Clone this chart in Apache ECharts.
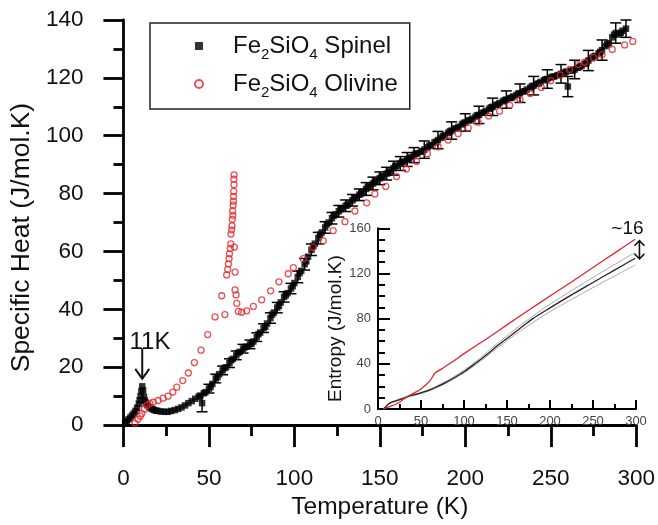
<!DOCTYPE html>
<html><head><meta charset="utf-8">
<script src="https://cdn.jsdelivr.net/npm/echarts@6/dist/echarts.min.js"></script>
<style>html,body{margin:0;padding:0;background:#fff}#c{width:658px;height:525px}</style>
</head><body><div id="c"></div>
<script>
// ---- data ----
const xTicks = [0, 50, 100, 150, 200, 250, 300];
const yTicks = [0, 20, 40, 60, 80, 100, 120, 140];
const insetXTicks = [0, 50, 100, 150, 200, 250, 300];
const insetYTicks = [0, 40, 80, 120, 160];
const seriesNames = ['Fe2SiO4 Spinel', 'Fe2SiO4 Olivine'];

// Spinel specific heat [T (K), Cp (J/mol.K)]
const spinel = [
 [1,0.9],[2,1.4],[3,2.0],[4,2.6],[5,3.3],[6,4.0],[7,4.9],[8,6.0],[9,7.4],[9.5,8.6],[10,10.0],[10.5,11.8],[11,13.4],[11.5,12.0],[12,9.8],[12.5,8.5],[13,7.8],[14,7.0],[15,6.3],[16,5.8],[17,5.5],[18,5.2],[19,5.0],
 [20,4.9],[22,4.7],[24,4.6],[26,4.6],[28,4.9],[30,5.2],[32,5.6],[34,6.1],[36,6.8],[38,7.6],[40,8.3],[42,9.1],[44,9.8],[45,10.2],[46,7.6],[47,11.0],[48,11.4],
 [50,12.6],[52,14.2],[54,16.1],[56,17.6],[58,18.9],[60,20.0],[62,21.4],[64,22.9],[66,24.1],[68,25.3],[70,26.4],[72,27.1],[74,27.9],[76,28.9],[78,30.4],
 [80,32.0],[82,33.5],[84,35.1],[86,37.0],[88,38.9],[90,40.6],[92,42.4],[94,44.3],[96,45.6],[98,47.2],[100,49.1],[102,51.2],[104,53.3],[106,55.6],[108,58.2],
 [110,60.6],[112,62.7],[114,64.6],[116,66.6],[118,68.3],[120,70.0],[122,71.5],[124,72.8],[126,73.9],[128,74.9],[130,75.8],[132,76.7],[134,77.7],[136,78.6],[138,79.6],
 [140,80.6],[142,81.6],[144,82.6],[146,83.5],[148,84.4],[150,85.3],[152,86.1],[154,86.9],[156,87.8],[158,88.8],[160,89.7],[162,90.4],[164,91.1],[166,91.8],[168,92.6],
 [170,93.3],[172,93.9],[174,94.5],[176,95.2],[178,96.0],[180,96.8],[182,97.7],[184,98.5],[186,99.3],[188,100.2],[190,101.0],[192,101.8],[194,102.5],[196,103.1],[198,103.9],
 [200,104.6],[202,105.3],[204,105.9],[206,106.6],[208,107.2],[210,107.9],[212,108.6],[214,109.3],[216,110.0],[218,110.6],[220,111.3],[222,111.9],[224,112.5],[226,113.0],[228,113.6],
 [230,114.1],[232,114.7],[234,115.3],[236,116.0],[238,116.6],[240,117.3],[242,117.9],[244,118.6],[246,119.2],[248,119.6],[250,120.1],[252,120.5],[254,120.9],[256,121.4],[258,121.8],
 [260,117.0],[262,122.5],[264,122.9],[266,123.5],[268,124.2],[270,124.8],[272,126.0],[274,126.8],[276,127.6],[278,128.5],[280,129.6],[282,131.0],[284,132.0],[286,134.0],[288,135.5],
 [290,135.0],[292,136.3],[294,137.0],
 // in-between readings where the band is widest
 [51,13.2],[55,16.6],[59,19.7],[63,22.4],[67,24.9],[71,26.9],[75,28.2],[79,31.4],[83,34.0],[87,38.2],[91,41.2],[95,44.9],[99,48.0],
 [103,52.5],[107,56.6],[111,61.9],[115,65.8],[119,69.4],[123,72.4],[127,74.6],[131,76.0],[135,78.4],[139,80.0],[143,82.2],[147,84.1],
 [151,85.9],[155,87.2],[159,89.4],[163,90.9],[167,92.0],[171,93.8],[175,94.6],[179,96.6],[183,97.9],[187,99.9],[191,101.5],[195,102.6],
 [199,104.4],[203,105.4],[207,107.1],[211,108.0],[215,109.8],[219,110.8],[223,112.3],[227,113.1],[231,114.6],[235,115.4],[239,117.1],
 [243,118.1],[247,119.5],[251,120.4],[255,121.0],[259,122.2],[263,122.6],[267,123.9],[271,125.3],[275,127.3],[279,129.0],[283,131.6],[287,134.9],[291,135.6]
];
// Error bars on spinel points: [T (K), half-length (J/mol.K)]
const spinelErrors = [
 [46,3.0],[50,1.5],[54,1.5],[58,1.5],[62,1.5],[66,1.5],[70,1.5],[74,1.5],[78,1.5],[82,1.5],[86,1.8],[90,1.8],[94,1.8],[98,1.8],
 [102,2.0],[106,2.0],[110,2.0],[114,2.0],[118,2.0],[122,2.0],[126,2.0],[130,2.0],[134,2.0],[138,2.0],[142,2.2],[146,2.2],[150,2.2],
 [154,2.2],[158,2.4],[162,2.4],[166,2.4],[170,2.6],[176,3.0],[184,3.0],[192,3.0],[200,3.0],[208,3.0],[216,3.0],[224,3.0],[232,3.2],
 [240,3.2],[248,3.2],[256,3.2],[260,3.5],[264,3.2],[272,3.5],[280,3.5],[288,3.5],[294,3.0]
];
// Olivine specific heat [T (K), Cp (J/mol.K)]
const olivine = [
 [6.8,0.7],[8.5,2.0],[9.8,3.1],[10.8,4.0],[12.3,5.5],[13.7,6.8],[15.5,7.5],[17.4,7.9],[20.3,8.5],[23.2,9.3],[26.1,10.0],[28.9,11.4],[31.2,13.1],[34.7,15.4],
 [38.0,18.0],[41.5,21.6],[45.4,25.9],[49.3,31.3],[53.6,37.4],[57.5,44.7],[59.4,38.2],[60.4,51.9],[61.0,53.8],[61.4,55.7],[61.8,57.5],[62.0,59.2],[62.5,61.0],
 [62.8,62.6],[62.9,66.0],[63.3,67.5],[63.5,68.9],[63.7,71.1],[63.9,74.0],[64.0,72.5],[64.2,76.0],[64.3,77.4],[64.4,79.0],[64.5,80.8],[64.6,85.0],[64.7,83.1],
 [64.7,86.5],[64.9,61.5],[65.3,52.9],[65.3,46.7],[65.9,45.0],[66.3,42.1],[67.2,39.3],[69.2,39.0],[72.1,39.5],[76.0,41.0],[80.9,43.3],[86.1,46.4],[91.0,49.5],
 [96.4,52.3],[99.4,54.4],[105.2,57.5],[111.0,61.5],[116.9,63.7],[122.7,67.2],[129.6,70.3],[135.4,74.0],[142.3,76.8],[147.1,79.9],[153.5,82.5],[159.8,85.9],
 [165.5,88.5],[171.5,91.1],[177.8,93.8],[184.1,96.2],[190.0,98.5],[195.8,100.7],[201.7,102.7],[207.5,104.7],[213.7,106.8],[220.0,108.5],[226.0,110.5],
 [232.0,112.5],[238.0,114.6],[244.5,116.7],[250.0,119.0],[255.5,121.0],[261.0,122.9],[266.0,124.6],[269.8,125.4],[275.0,127.0],[280.0,128.0],[286.0,129.8],
 [293.2,131.4],[298.0,132.6]
];
// Inset: entropy [T (K), S (J/mol.K)]
const entropyOlivine = [
 [6,0],[15,2.5],[25,6],[33,10.5],[40,13.5],[48.5,16.8],[55,21],[60,24.5],[63,28],[66,31.6],[75,36],[87,42],[100,49],[126,62],[150,74.5],
 [175,87.5],[200,100],[225,112.5],[250,125.3],[275,138],[299,150.3]
];
const entropySpinel = [
 [6,0],[9,2],[12,4.5],[16,6],[21,7.2],[27,8.8],[33,10.5],[40,12.2],[48,13.8],[58,16.2],[68,19.5],[78,23.2],[87,27],[100,33],[113,40.2],
 [126,47.8],[138,55.5],[150,62.5],[165,71.3],[180,80],[200,89.5],[225,101],[250,112],[275,123],[299,133.5]
];
const entropySpinelHigh = [
 [6,0],[16,6.2],[33,10.8],[58,16.8],[87,28],[113,41.6],[138,57.4],[165,73.8],[200,92.8],[250,116.5],[299,138.7]
];
const entropySpinelLow = [
 [6,0],[16,5.8],[33,10.2],[58,15.6],[87,26],[113,38.8],[138,53.6],[165,68.8],[200,86.2],[250,107.5],[299,127.5]
];
const peakLabel = '11K';
const peakT = 11;
const entropyGapLabel = '~16';

// ---- chart ----
const FONT = 'Liberation Sans, Arial, Helvetica, sans-serif';
const chart = echarts.init(document.getElementById('c'), null, {renderer: 'canvas'});

function legendFmt(name) {
  const parts = name.split(' ');
  const formula = parts[0].match(/[A-Za-z]+|\d+/g)
    .map(t => /\d/.test(t) ? '{s|' + t + '}' : '{a|' + t + '}').join('');
  return '{sp| }' + formula + '{a| ' + parts.slice(1).join(' ') + '}';
}

const spinelCpAt = T => spinel.find(p => p[0] === T)[1];
const errData = spinelErrors.map(e => {
  const c = spinelCpAt(e[0]);
  return [e[0], c - e[1], c + e[1]];
});

const mainAxisCommon = {
  axisLine: {show: true, onZero: false, lineStyle: {color: '#000', width: 2.8}},
  splitLine: {show: false},
  nameTextStyle: {color: '#111', fontFamily: FONT}
};
const insetAxisCommon = {
  axisLine: {show: true, onZero: false, lineStyle: {color: '#000', width: 2}},
  splitLine: {show: false},
  nameTextStyle: {color: '#111', fontFamily: FONT}
};

const option = {
  animation: false,
  backgroundColor: '#fff',
  textStyle: {fontFamily: FONT},
  grid: [
    {left: 123.3, top: 20, width: 513.3, height: 410.5},
    {left: 378, top: 228.3, width: 258, height: 180.7}
  ],
  xAxis: [
    Object.assign({}, mainAxisCommon, {
      gridIndex: 0, type: 'value', min: xTicks[0], max: xTicks[xTicks.length - 1], interval: xTicks[1] - xTicks[0],
      name: 'Temperature (K)', nameLocation: 'middle', nameGap: 68,
      nameTextStyle: {color: '#111', fontFamily: FONT, fontSize: 24.5},
      axisTick: {show: true, inside: false, length: 22, lineStyle: {color: '#000', width: 2.8}},
      minorTick: {show: true, splitNumber: 2, length: 11, lineStyle: {color: '#000', width: 2.8}},
      axisLabel: {color: '#111', fontFamily: FONT, fontSize: 22.5, margin: 42}
    }),
    Object.assign({}, insetAxisCommon, {
      gridIndex: 1, type: 'value', min: insetXTicks[0], max: insetXTicks[insetXTicks.length - 1], interval: insetXTicks[1] - insetXTicks[0],
      axisTick: {show: true, inside: true, length: 9, lineStyle: {color: '#000', width: 2}},
      minorTick: {show: true, splitNumber: 2, length: 5, lineStyle: {color: '#000', width: 2}},
      axisLabel: {color: '#444', fontFamily: FONT, fontSize: 13, margin: 6}
    })
  ],
  yAxis: [
    Object.assign({}, mainAxisCommon, {
      gridIndex: 0, type: 'value', min: yTicks[0], max: yTicks[yTicks.length - 1], interval: yTicks[1] - yTicks[0],
      name: 'Specific Heat (J/mol.K)', nameLocation: 'middle', nameGap: 86,
      nameTextStyle: {color: '#111', fontFamily: FONT, fontSize: 26.5, padding: [0, 30, 0, 0]},
      axisTick: {show: true, inside: false, length: 20, lineStyle: {color: '#000', width: 2.8}},
      minorTick: {show: true, splitNumber: 2, length: 10, lineStyle: {color: '#000', width: 2.8}},
      axisLabel: {color: '#111', fontFamily: FONT, fontSize: 22.5, margin: 40}
    }),
    Object.assign({}, insetAxisCommon, {
      gridIndex: 1, type: 'value', min: insetYTicks[0], max: insetYTicks[insetYTicks.length - 1], interval: insetYTicks[1] - insetYTicks[0],
      name: 'Entropy (J/mol.K)', nameLocation: 'middle', nameGap: 30,
      nameTextStyle: {color: '#111', fontFamily: FONT, fontSize: 19, padding: [0, 20, 0, 0]},
      axisTick: {show: true, inside: true, length: 12, lineStyle: {color: '#000', width: 2}},
      minorTick: {show: true, splitNumber: 4, length: 7, lineStyle: {color: '#000', width: 2}},
      axisLabel: {color: '#444', fontFamily: FONT, fontSize: 13, margin: 7}
    })
  ],
  legend: {
    data: seriesNames,
    orient: 'vertical', left: 150, top: 23,
    padding: [11, 12, 9, 44],
    itemGap: 10, itemWidth: 8, itemHeight: 8,
    borderColor: '#222', borderWidth: 1.5, backgroundColor: '#fff',
    selectedMode: false,
    formatter: legendFmt,
    textStyle: {
      rich: {
        a: {fontSize: 24, lineHeight: 32, fontFamily: FONT, color: '#111'},
        s: {fontSize: 15, lineHeight: 15, verticalAlign: 'bottom', fontFamily: FONT, color: '#111'},
        sp: {width: 25, fontSize: 10}
      }
    }
  },
  series: [
    {
      name: seriesNames[0], type: 'scatter', xAxisIndex: 0, yAxisIndex: 0,
      data: spinel, symbol: 'rect', symbolSize: 6.5,
      itemStyle: {color: '#000'}, z: 3
    },
    {
      name: 'spinel error', type: 'custom', xAxisIndex: 0, yAxisIndex: 0,
      data: errData, encode: {x: 0, y: [1, 2]}, z: 3,
      renderItem: (params, api) => {
        const x = api.value(0);
        const p1 = api.coord([x, api.value(1)]);
        const p2 = api.coord([x, api.value(2)]);
        const w = 5.5;
        const st = {stroke: '#000', lineWidth: 1.5};
        return {type: 'group', children: [
          {type: 'line', shape: {x1: p1[0], y1: p1[1], x2: p2[0], y2: p2[1]}, style: st},
          {type: 'line', shape: {x1: p1[0] - w, y1: p1[1], x2: p1[0] + w, y2: p1[1]}, style: st},
          {type: 'line', shape: {x1: p2[0] - w, y1: p2[1], x2: p2[0] + w, y2: p2[1]}, style: st}
        ]};
      }
    },
    {
      name: seriesNames[1], type: 'scatter', xAxisIndex: 0, yAxisIndex: 0,
      data: olivine, symbol: 'circle', symbolSize: 6,
      itemStyle: {color: 'rgba(255,255,255,0)', borderColor: '#e3262c', borderWidth: 1.3}, z: 4
    },
    {
      name: 'S spinel high', type: 'line', xAxisIndex: 1, yAxisIndex: 1, data: entropySpinelHigh,
      showSymbol: false, smooth: 0.3, lineStyle: {color: '#aaa', width: 1}, z: 2
    },
    {
      name: 'S spinel low', type: 'line', xAxisIndex: 1, yAxisIndex: 1, data: entropySpinelLow,
      showSymbol: false, smooth: 0.3, lineStyle: {color: '#aaa', width: 1}, z: 2
    },
    {
      name: 'S spinel', type: 'line', xAxisIndex: 1, yAxisIndex: 1, data: entropySpinel,
      showSymbol: false, smooth: 0.3, lineStyle: {color: '#222', width: 1.3}, z: 3
    },
    {
      name: 'S olivine', type: 'line', xAxisIndex: 1, yAxisIndex: 1, data: entropyOlivine,
      showSymbol: false, smooth: 0.2, lineStyle: {color: '#e3262c', width: 1.3}, z: 3
    }
  ]
};
chart.setOption(option);

// ---- annotations anchored to data coordinates ----
const pTxt = chart.convertToPixel({gridIndex: 0}, [peakT + 4.5, 28.5]);
const pTop = chart.convertToPixel({gridIndex: 0}, [peakT, 26.5]);
const pTip = chart.convertToPixel({gridIndex: 0}, [peakT, 16]);
const gTop = chart.convertToPixel({gridIndex: 1}, [304, 149]);
const gBot = chart.convertToPixel({gridIndex: 1}, [304, 133]);
const gTxt = chart.convertToPixel({gridIndex: 1}, [290, 160]);
const ah = 5;
chart.setOption({
  graphic: [
    {type: 'text', x: pTxt[0], y: pTxt[1], style: {text: peakLabel, fontFamily: FONT, fontSize: 24, fill: '#111', align: 'center', verticalAlign: 'middle'}, z: 10},
    {type: 'line', shape: {x1: pTop[0], y1: pTop[1], x2: pTip[0], y2: pTip[1]}, style: {stroke: '#111', lineWidth: 2}, z: 10},
    {type: 'polyline', shape: {points: [[pTip[0] - 7, pTip[1] - 10], [pTip[0], pTip[1]], [pTip[0] + 7, pTip[1] - 10]]}, style: {stroke: '#111', lineWidth: 2, fill: null}, z: 10},
    {type: 'text', x: gTxt[0], y: gTxt[1], style: {text: entropyGapLabel, fontFamily: FONT, fontSize: 19, fill: '#111', align: 'center', verticalAlign: 'middle'}, z: 10},
    {type: 'line', shape: {x1: gTop[0], y1: gTop[1], x2: gBot[0], y2: gBot[1]}, style: {stroke: '#111', lineWidth: 1.6}, z: 10},
    {type: 'polyline', shape: {points: [[gTop[0] - ah, gTop[1] + ah], [gTop[0], gTop[1]], [gTop[0] + ah, gTop[1] + ah]]}, style: {stroke: '#111', lineWidth: 1.6, fill: null}, z: 10},
    {type: 'polyline', shape: {points: [[gBot[0] - ah, gBot[1] - ah], [gBot[0], gBot[1]], [gBot[0] + ah, gBot[1] - ah]]}, style: {stroke: '#111', lineWidth: 1.6, fill: null}, z: 10}
  ]
});
</script>
</body></html>
